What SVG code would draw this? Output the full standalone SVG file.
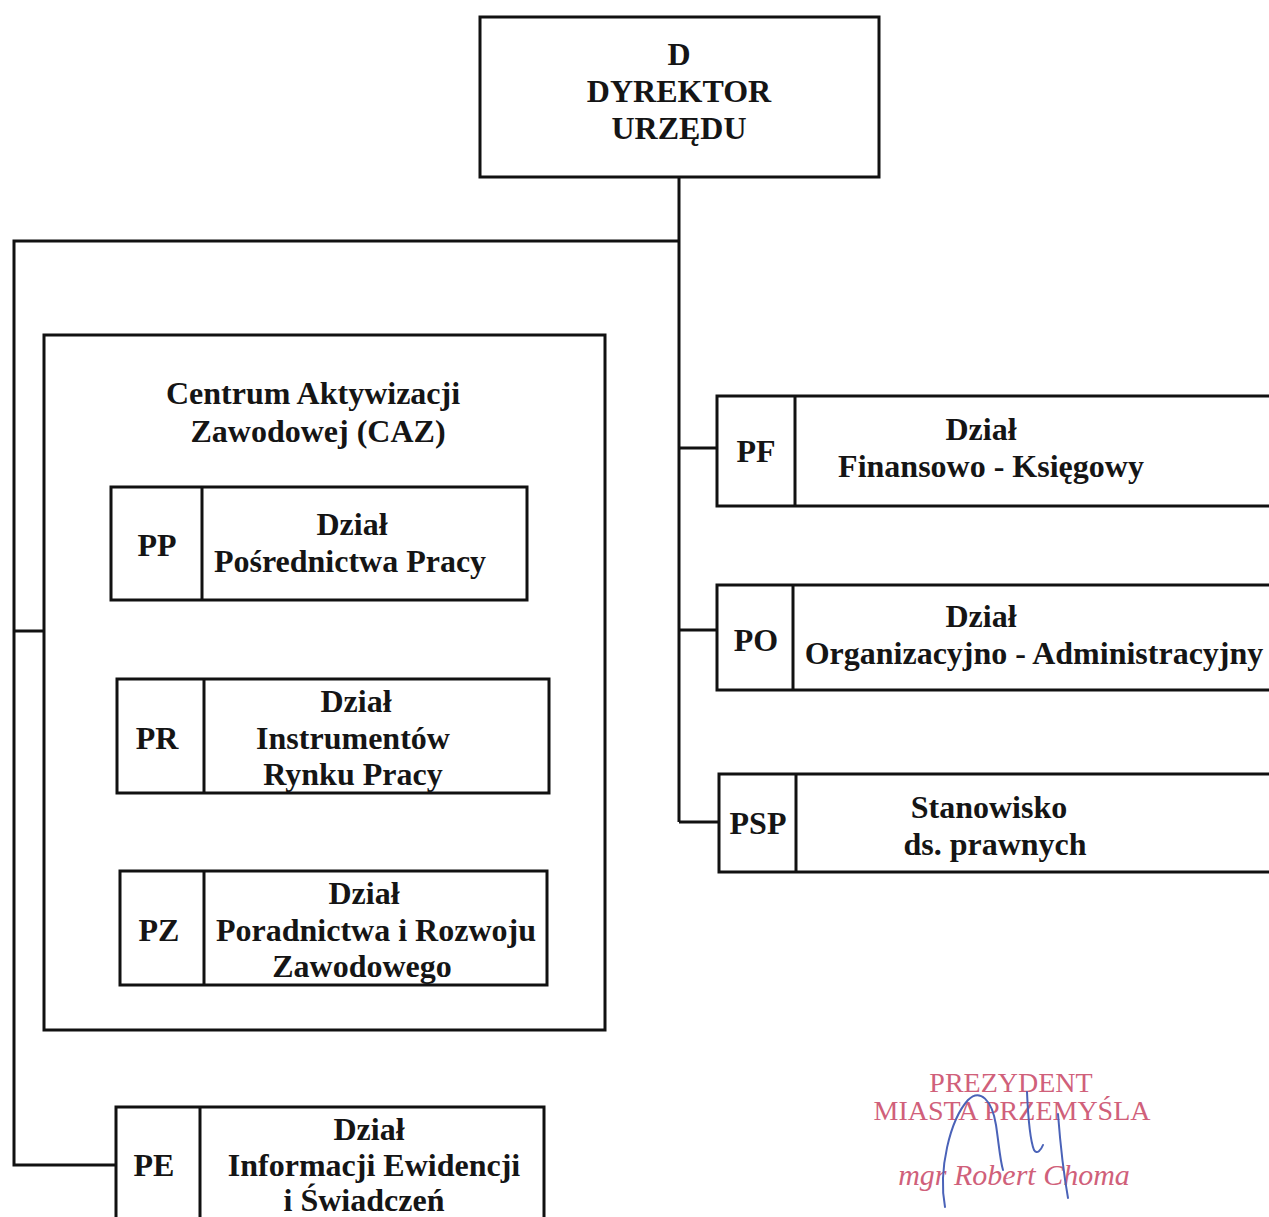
<svg xmlns="http://www.w3.org/2000/svg" width="1269" height="1217" viewBox="0 0 1269 1217">
<style>
.box{fill:#fff;stroke:#111;stroke-width:3}
.ln{fill:none;stroke:#111;stroke-width:3}
.t{font-family:"Liberation Serif","Times New Roman",serif;font-weight:bold;font-size:32px;fill:#151515;text-anchor:middle}
.st{font-family:"Liberation Serif","Times New Roman",serif;font-size:28px;fill:#d0607a;text-anchor:middle}
.sti{font-family:"Liberation Serif","Times New Roman",serif;font-style:italic;font-size:30px;fill:#d0607a;text-anchor:middle}
.sig{fill:none;stroke:#4a62b8;stroke-width:2;stroke-linecap:round}
</style>
<rect width="1269" height="1217" fill="#fff"/>
<g id="connectors">
<path class="ln" d="M679,177 V822"/>
<path class="ln" d="M679,241 H14 V1165 H116"/>
<path class="ln" d="M14,631 H45"/>
<path class="ln" d="M45,534 H111"/>
<path class="ln" d="M45,738 H117"/>
<path class="ln" d="M45,925 H120"/>
<path class="ln" d="M679,448 H717"/>
<path class="ln" d="M679,630 H717"/>
<path class="ln" d="M679,822 H719"/>
</g>
<g id="node-D">
<rect class="box" x="480" y="17" width="399" height="160"/>
<text class="t" x="679" y="65">D</text>
<text class="t" x="679" y="102">DYREKTOR</text>
<text class="t" x="679" y="139">URZĘDU</text>
</g>
<g id="node-CAZ">
<rect class="box" x="44" y="335" width="561" height="695" fill="none"/>
<text class="t" x="313" y="404">Centrum Aktywizacji</text>
<text class="t" x="318" y="442">Zawodowej (CAZ)</text>
</g>
<g id="node-PP">
<rect class="box" x="111" y="487" width="416" height="113"/>
<path class="ln" d="M202,487 V600"/>
<text class="t" x="157" y="556">PP</text>
<text class="t" x="352" y="535">Dział</text>
<text class="t" x="350" y="572">Pośrednictwa Pracy</text>
</g>
<g id="node-PR">
<rect class="box" x="117" y="679" width="432" height="114"/>
<path class="ln" d="M204,679 V793"/>
<text class="t" x="157" y="749">PR</text>
<text class="t" x="356" y="712">Dział</text>
<text class="t" x="353" y="749">Instrumentów</text>
<text class="t" x="353" y="785">Rynku Pracy</text>
</g>
<g id="node-PZ">
<rect class="box" x="120" y="871" width="427" height="114"/>
<path class="ln" d="M204,871 V985"/>
<text class="t" x="159" y="941">PZ</text>
<text class="t" x="364" y="904">Dział</text>
<text class="t" x="376" y="941">Poradnictwa i Rozwoju</text>
<text class="t" x="362" y="977">Zawodowego</text>
</g>
<g id="node-PE">
<rect class="box" x="116" y="1107" width="428" height="130"/>
<path class="ln" d="M200,1107 V1237"/>
<text class="t" x="154" y="1176">PE</text>
<text class="t" x="369" y="1140">Dział</text>
<text class="t" x="374" y="1176">Informacji Ewidencji</text>
<text class="t" x="364" y="1211">i Świadczeń</text>
</g>
<g id="node-PF">
<rect class="box" x="717" y="396" width="570" height="110"/>
<path class="ln" d="M795,396 V506"/>
<text class="t" x="756" y="462">PF</text>
<text class="t" x="981" y="440">Dział</text>
<text class="t" x="991" y="477">Finansowo - Księgowy</text>
</g>
<g id="node-PO">
<rect class="box" x="717" y="585" width="570" height="105"/>
<path class="ln" d="M793,585 V690"/>
<text class="t" x="756" y="651">PO</text>
<text class="t" x="981" y="627">Dział</text>
<text class="t" x="1034" y="664">Organizacyjno - Administracyjny</text>
</g>
<g id="node-PSP">
<rect class="box" x="719" y="774" width="570" height="98"/>
<path class="ln" d="M796,774 V872"/>
<text class="t" x="758" y="834">PSP</text>
<text class="t" x="989" y="818">Stanowisko</text>
<text class="t" x="995" y="855">ds. prawnych</text>
</g>
<g id="stamp">
<text class="st" x="1011" y="1092">PREZYDENT</text>
<text class="st" x="1012" y="1120">MIASTA PRZEMYŚLA</text>
<text class="sti" x="1014" y="1185">mgr Robert Choma</text>
<path class="sig" d="M945,1207 C938,1170 950,1120 968,1100 C980,1088 992,1100 996,1125 C999,1145 1000,1160 1003,1170"/>
<path class="sig" d="M1027,1092 C1028,1115 1030,1140 1034,1150 C1037,1155 1041,1150 1043,1145"/>
<path class="sig" d="M1058,1114 C1060,1140 1063,1170 1068,1198"/>
</g>
</svg>
